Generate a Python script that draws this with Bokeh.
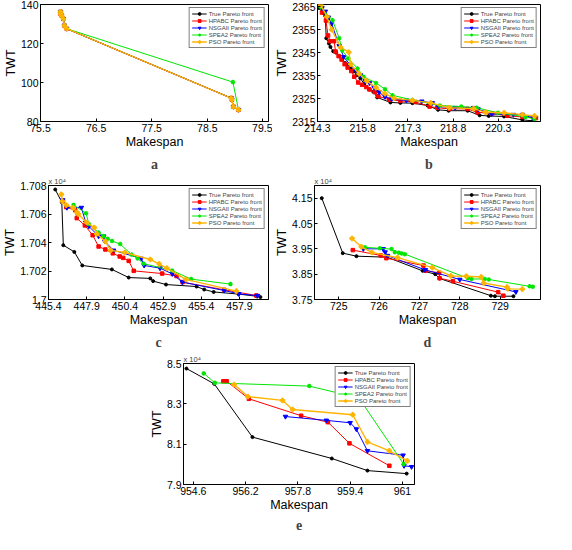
from bokeh.plotting import figure
from bokeh.layouts import column, row
from bokeh.models import Range1d, FixedTicker, Title, Spacer
from bokeh.embed import file_html
from bokeh.resources import INLINE

# ---------------- data ----------------
names = ["True Pareto front", "HPABC Pareto front", "NSGAII Pareto front",
         "SPEA2 Pareto front", "PSO Pareto front"]

# panel a
a_true_x = [75.86, 75.86, 75.88, 75.91, 75.93, 75.97, 78.93, 78.94, 78.97, 79.06]
a_true_y = [136.3, 135.2, 134.3, 132.7, 129.2, 127.6, 92.0, 91.2, 87.6, 86.0]
a_hpabc_x = [75.86, 75.86, 75.88, 75.91, 75.93, 75.97, 78.93, 78.94, 78.97, 79.06]
a_hpabc_y = [136.3, 135.2, 134.3, 132.7, 129.2, 127.6, 92.0, 91.2, 87.6, 86.0]
a_nsga_x = [75.86, 75.86, 75.88, 75.91, 75.93, 75.97, 78.93, 78.94, 78.97, 79.06]
a_nsga_y = [136.3, 135.2, 134.3, 132.7, 129.2, 127.6, 92.0, 91.2, 87.6, 86.0]
a_spea_x = [75.86, 75.88, 75.91, 75.93, 75.97, 78.96, 79.06]
a_spea_y = [136.3, 134.3, 132.7, 129.2, 127.6, 100.2, 86.0]
a_pso_x = [75.86, 75.86, 75.88, 75.91, 75.93, 75.97, 78.93, 78.94, 78.97, 79.06]
a_pso_y = [136.3, 135.2, 134.3, 132.7, 129.2, 127.6, 92.0, 91.2, 87.6, 86.0]

# panel b
b_true_x = [214.34, 214.49, 214.56, 214.59, 214.68, 214.73, 214.82, 214.92, 215.02, 215.12,
            215.22, 215.32, 215.40, 215.50, 215.60, 215.72, 215.85, 216.03, 216.15, 216.28,
            216.72, 217.05, 217.45, 217.95, 218.30, 218.65, 219.28, 219.68, 219.98, 220.49,
            221.10, 221.45]
b_true_y = [2364.5, 2362.3, 2361.0, 2351.3, 2349.0, 2347.5, 2345.6, 2345.0, 2343.5, 2342.0,
            2340.5, 2339.5, 2338.1, 2336.8, 2335.2, 2333.8, 2331.4, 2329.0, 2328.0, 2325.5,
            2323.3, 2323.1, 2323.0, 2322.0, 2320.1, 2319.7, 2319.7, 2317.7, 2317.4, 2317.2,
            2315.7, 2315.3]
b_hpabc_x = [214.45, 214.58, 214.65, 214.72, 214.85, 214.90, 215.00, 215.10, 215.20, 215.30,
             215.42, 215.52, 215.65, 215.78, 215.92, 216.02, 216.20, 216.32, 216.68, 217.05,
             217.55, 218.02, 218.28, 218.68, 219.28, 219.60, 220.10, 220.60, 221.10, 221.55]
b_hpabc_y = [2362.5, 2359.0, 2352.5, 2350.0, 2350.0, 2345.5, 2343.5, 2342.0, 2340.0, 2338.5,
             2337.0, 2334.5, 2332.0, 2331.0, 2330.0, 2329.0, 2327.8, 2326.0, 2324.5, 2324.0,
             2323.5, 2321.5, 2321.0, 2320.5, 2320.5, 2319.0, 2318.5, 2317.5, 2317.0, 2316.5]
b_nsga_x = [214.45, 214.56, 214.66, 214.77, 215.02, 215.17, 215.37, 215.58, 215.73, 215.88,
            216.03, 216.18, 216.34, 216.54, 216.76, 217.25, 217.76, 218.11, 218.31, 218.87,
            219.48, 219.63, 220.08, 220.80, 221.10, 221.45]
b_nsga_y = [2364.5, 2363.0, 2360.4, 2357.7, 2348.0, 2343.2, 2339.9, 2337.2, 2335.2, 2332.7,
            2331.8, 2329.8, 2327.8, 2325.8, 2324.7, 2324.2, 2323.8, 2323.1, 2321.5, 2321.0,
            2321.0, 2320.4, 2318.3, 2318.0, 2318.0, 2316.6]
b_spea_x = [214.40, 214.80, 215.02, 215.12, 215.32, 215.63, 215.83, 216.24, 216.54, 216.79,
            217.45, 218.36, 219.07, 219.58, 220.29, 221.20, 221.50]
b_spea_y = [2365.0, 2359.1, 2351.3, 2346.0, 2342.5, 2338.1, 2334.5, 2331.8, 2329.1, 2326.4,
            2324.4, 2322.0, 2321.5, 2321.0, 2318.8, 2317.0, 2316.1]
b_pso_x = [214.41, 214.61, 214.77, 215.07, 215.34, 215.40, 215.68, 215.93, 216.24, 216.54,
           216.84, 217.45, 218.06, 218.67, 219.48, 219.88, 220.49, 221.10, 221.50]
b_pso_y = [2365.8, 2360.7, 2355.0, 2347.3, 2345.2, 2340.0, 2335.8, 2332.7, 2329.8, 2327.1,
           2325.1, 2324.2, 2323.1, 2321.0, 2320.6, 2319.0, 2318.8, 2318.0, 2317.4]

# panel c (TWT in units of 10^4)
c_true_x = [445.84, 446.27, 446.37, 447.09, 447.61, 449.55, 450.65, 452.06, 452.25, 453.09,
            455.09, 455.59, 456.21, 457.84, 459.02, 459.27]
c_true_y = [1.70772, 1.70683, 1.70381, 1.70334, 1.70239, 1.70211, 1.70154, 1.70148, 1.70129,
            1.70105, 1.70091, 1.70070, 1.70053, 1.70038, 1.70023, 1.70017]
c_hpabc_x = [446.35, 446.56, 447.15, 447.25, 447.78, 448.29, 448.68, 449.12, 449.61, 450.06,
             450.29, 450.65, 450.98, 452.84, 453.78, 454.18, 456.90, 459.00]
c_hpabc_y = [1.70690, 1.70648, 1.70626, 1.70571, 1.70520, 1.70451, 1.70372, 1.70351, 1.70324,
             1.70302, 1.70292, 1.70271, 1.70201, 1.70182, 1.70165, 1.70122, 1.70068, 1.70028]
c_nsga_x = [446.33, 446.61, 447.55, 447.84, 448.04, 448.68, 449.02, 449.08, 449.66, 451.47,
            451.66, 452.70, 453.50, 454.16, 456.90, 457.85, 459.08]
c_nsga_y = [1.70698, 1.70645, 1.70645, 1.70540, 1.70514, 1.70444, 1.70444, 1.70408, 1.70345,
            1.70288, 1.70239, 1.70220, 1.70180, 1.70122, 1.70063, 1.70040, 1.70027]
c_spea_x = [447.04, 447.86, 448.04, 448.68, 449.00, 449.27, 449.56, 450.09, 450.84, 451.23,
            451.62, 453.49, 454.74, 457.31]
c_spea_y = [1.70664, 1.70605, 1.70529, 1.70470, 1.70446, 1.70427, 1.70410, 1.70389, 1.70315,
            1.70288, 1.70252, 1.70203, 1.70143, 1.70108]
c_pso_x = [446.24, 446.30, 446.56, 447.02, 447.27, 447.35, 447.90, 448.39, 448.56, 449.12,
           449.47, 450.39, 452.06, 452.65, 453.15, 454.39, 457.70]
c_pso_y = [1.70738, 1.70690, 1.70662, 1.70643, 1.70612, 1.70600, 1.70540, 1.70505, 1.70461,
           1.70408, 1.70345, 1.70330, 1.70281, 1.70249, 1.70220, 1.70141, 1.70059]

# panel d (TWT in units of 10^4)
d_true_x = [724.58, 725.10, 725.44, 726.20, 727.08, 727.39, 727.50, 728.77, 728.87, 729.33]
d_true_y = [4.150, 3.933, 3.921, 3.917, 3.863, 3.850, 3.833, 3.765, 3.763, 3.763]
d_hpabc_x = [725.35, 726.04, 726.18, 727.10, 727.16, 727.49, 727.50, 727.83, 728.95, 729.08]
d_hpabc_y = [3.945, 3.924, 3.913, 3.884, 3.864, 3.855, 3.834, 3.822, 3.779, 3.765]
d_nsga_x = [725.61, 726.10, 726.15, 726.21, 727.14, 728.00, 729.39]
d_nsga_y = [3.950, 3.950, 3.937, 3.923, 3.867, 3.829, 3.780]
d_spea_x = [725.65, 726.02, 726.31, 726.39, 726.49, 726.56, 726.64, 728.20, 728.29, 728.62,
            728.72, 729.73, 729.81]
d_spea_y = [3.956, 3.952, 3.949, 3.937, 3.935, 3.932, 3.929, 3.834, 3.831, 3.831, 3.829,
            3.802, 3.800]
d_pso_x = [725.33, 725.56, 725.82, 726.46, 727.32, 727.78, 728.16, 728.53, 728.59, 729.17,
           729.19, 729.55]
d_pso_y = [3.991, 3.958, 3.936, 3.915, 3.876, 3.843, 3.842, 3.839, 3.815, 3.799, 3.792, 3.791]

# panel e (TWT in units of 10^4)
e_true_x = [954.39, 955.24, 956.41, 958.84, 959.93, 961.13]
e_true_y = [8.475, 8.399, 8.135, 8.029, 7.969, 7.954]
e_hpabc_x = [955.52, 955.62, 956.30, 957.90, 958.72, 959.38, 960.60]
e_hpabc_y = [8.412, 8.412, 8.325, 8.241, 8.209, 8.104, 7.993]
e_nsga_x = [957.42, 958.67, 959.40, 959.59, 959.93, 961.02, 961.05, 961.28]
e_nsga_y = [8.237, 8.218, 8.206, 8.175, 8.067, 8.045, 7.993, 7.988]
e_spea_x = [954.92, 955.26, 958.15, 959.67, 961.04]
e_spea_y = [8.451, 8.404, 8.388, 8.329, 8.001]
e_pso_x = [955.85, 956.27, 957.33, 957.64, 959.48, 959.93, 960.60, 961.15]
e_pso_y = [8.396, 8.336, 8.317, 8.272, 8.246, 8.111, 8.067, 8.017]

# ticks
a_xticks = [75.5, 76.5, 77.5, 78.5, 79.5]
a_yticks = [80, 100, 120, 140]
b_xticks = [214.3, 215.8, 217.3, 218.8, 220.3]
b_yticks = [2315, 2325, 2335, 2345, 2355, 2365]
c_xticks = [445.4, 447.9, 450.4, 452.9, 455.4, 457.9]
c_yticks = [1.7, 1.702, 1.704, 1.706, 1.708]
c_ylabels = ["1.7", "1.702", "1.704", "1.706", "1.708"]
d_xticks = [725, 726, 727, 728, 729]
d_yticks = [3.75, 3.85, 3.95, 4.05, 4.15]
e_xticks = [954.6, 956.2, 957.8, 959.4, 961]
e_xlabels = ["954.6", "956.2", "957.8", "959.4", "961"]
e_yticks = [7.9, 8.1, 8.3, 8.5]

# ---------------- styling ----------------
COLORS = ["#000000", "#ff0000", "#0000ff", "#00e600", "#ffb400"]
MARKERS = ["circle", "square", "inverted_triangle", "asterisk", "plus"]
SIZES = [3, 3.5, 4.5, 4.5, 4.5]
FONT = "Liberation Sans"


def panel(letter, series, xr, yr, xt, yt, xlab=None, ylab=None, exp=False, height=174, top=4):
    p = figure(width=272, height=height, output_backend="svg", toolbar_location=None,
               x_range=Range1d(*xr), y_range=Range1d(*yr),
               min_border_left=0, min_border_right=4, min_border_top=top, min_border_bottom=0)
    p.xgrid.visible = False
    p.ygrid.visible = False
    p.outline_line_color = "black"
    p.outline_line_alpha = 1
    for ax, ticks, labs in ((p.xaxis[0], xt, xlab), (p.yaxis[0], yt, ylab)):
        ax.ticker = FixedTicker(ticks=ticks)
        if labs is not None:
            ax.major_label_overrides = {t: l for t, l in zip(ticks, labs)}
        ax.major_tick_in = 3
        ax.major_tick_out = 0
        ax.minor_tick_in = 0
        ax.minor_tick_out = 0
        ax.axis_line_color = "black"
        ax.major_tick_line_color = "black"
        ax.major_label_text_font = FONT
        ax.major_label_text_font_size = "10.5px"
        ax.major_label_text_color = "black"
        ax.major_label_standoff = 2
        ax.axis_label_text_font = FONT
        ax.axis_label_text_font_size = "12.5px"
        ax.axis_label_text_font_style = "normal"
        ax.axis_label_text_color = "black"
        ax.axis_label_standoff = 0
    p.xaxis.axis_label = "Makespan"
    p.yaxis.axis_label = "TWT"
    for i, (xs, ys) in enumerate(series):
        p.line(xs, ys, color=COLORS[i], line_width=1.4 if i == 4 else 1, legend_label=names[i])
        p.scatter(xs, ys, marker=MARKERS[i], size=SIZES[i], color=COLORS[i],
                  line_width=1.2 if MARKERS[i] == "asterisk" else 1, legend_label=names[i])
    lg = p.legend[0]
    lg.location = "top_right"
    lg.margin = 3
    lg.padding = 2
    lg.spacing = 0
    lg.label_text_font = FONT
    lg.label_text_font_size = "6px"
    lg.label_height = 7
    lg.glyph_height = 7
    lg.glyph_width = 15
    lg.label_standoff = 2
    lg.border_line_color = "black"
    lg.border_line_width = 1
    lg.background_fill_alpha = 1
    if exp:
        p.add_layout(Title(text="x 10\u2074", align="left", text_font=FONT,
                           text_font_style="normal", text_font_size="7.5px",
                           standoff=0, offset=0), "above")
    p.add_layout(Title(text=letter, align="center", text_font="Liberation Serif",
                       text_font_style="bold", text_font_size="14px", standoff=6), "below")
    return p


pa = panel("a", [(a_true_x, a_true_y), (a_hpabc_x, a_hpabc_y), (a_nsga_x, a_nsga_y),
                 (a_spea_x, a_spea_y), (a_pso_x, a_pso_y)],
           (75.5, 79.6), (80, 140), a_xticks, a_yticks, height=174)
pb = panel("b", [(b_true_x, b_true_y), (b_hpabc_x, b_hpabc_y), (b_nsga_x, b_nsga_y),
                 (b_spea_x, b_spea_y), (b_pso_x, b_pso_y)],
           (214.3, 221.7), (2315, 2366), b_xticks, b_yticks, height=174)
pc = panel("c", [(c_true_x, c_true_y), (c_hpabc_x, c_hpabc_y), (c_nsga_x, c_nsga_y),
                 (c_spea_x, c_spea_y), (c_pso_x, c_pso_y)],
           (445.4, 459.8), (1.7, 1.708), c_xticks, c_yticks, ylab=c_ylabels, exp=True, top=0,
           height=178)
pd = panel("d", [(d_true_x, d_true_y), (d_hpabc_x, d_hpabc_y), (d_nsga_x, d_nsga_y),
                 (d_spea_x, d_spea_y), (d_pso_x, d_pso_y)],
           (724.4, 730.0), (3.75, 4.2), d_xticks, d_yticks, exp=True, top=0, height=178)
pe = panel("e", [(e_true_x, e_true_y), (e_hpabc_x, e_hpabc_y), (e_nsga_x, e_nsga_y),
                 (e_spea_x, e_spea_y), (e_pso_x, e_pso_y)],
           (954.3, 961.37), (7.9, 8.5), e_xticks, e_yticks, xlab=e_xlabels, exp=True, top=0,
           height=180)

layout = column(row(pa, pb), row(pc, pd), row(Spacer(width=146), pe))
open("out.html", "w").write(file_html(layout, INLINE))
